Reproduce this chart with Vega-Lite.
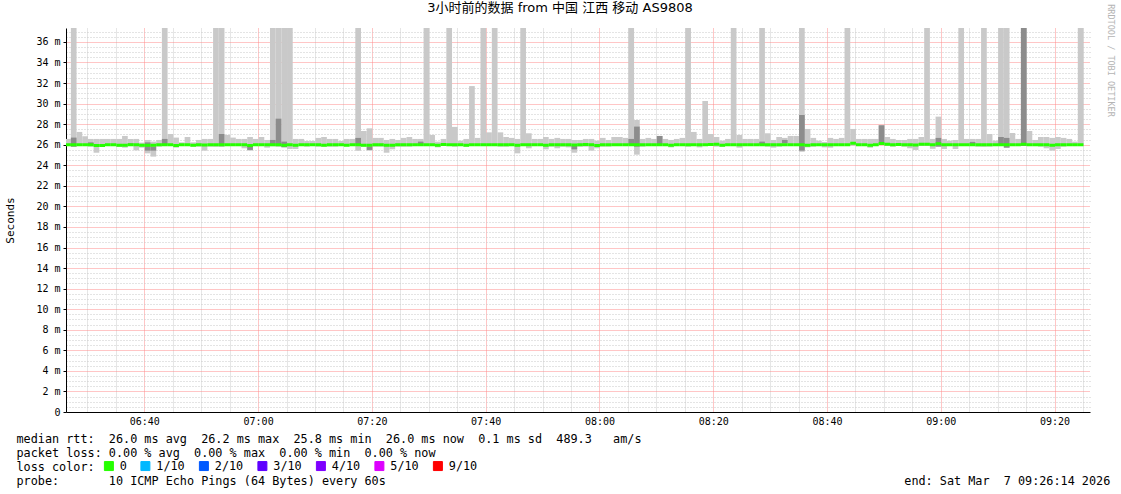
{
  "$schema": "https://vega.github.io/schema/vega-lite/v6.json",
  "width": 1024,
  "height": 384,
  "autosize": {"type": "none"},
  "padding": {"left": 66, "top": 28, "right": 31, "bottom": 82},
  "background": "white",
  "config": {"view": {"stroke": null}},
  "title": {
    "text": "3小时前的数据 from 中国 江西 移动 AS9808",
    "font": "DejaVu Sans, Noto Sans CJK SC",
    "fontSize": 13,
    "fontWeight": "normal",
    "color": "black",
    "anchor": "middle",
    "frame": "group",
    "dx": -18,
    "dy": 24,
    "offset": 3,
    "baseline": "alphabetic"
  },
  "data": {
    "format": {"parse": {"t": "date:'%Y-%m-%d %H:%M'"}},
    "values": [
      {"t": "2026-03-07 06:26", "lo": 25.9, "hi": 26.56, "med": 26, "loss": "0"},
      {"t": "2026-03-07 06:27", "lo": 25.81, "hi": 40, "dlo": 25.81, "dhi": 26.69, "med": 26, "loss": "0"},
      {"t": "2026-03-07 06:28", "lo": 25.9, "hi": 27.24, "med": 26, "loss": "0"},
      {"t": "2026-03-07 06:29", "lo": 25.9, "hi": 26.82, "med": 26, "loss": "0"},
      {"t": "2026-03-07 06:30", "lo": 25.81, "hi": 26.56, "dlo": 25.95, "dhi": 26.23, "med": 26, "loss": "0"},
      {"t": "2026-03-07 06:31", "lo": 25.22, "hi": 26.56, "med": 25.92, "loss": "0"},
      {"t": "2026-03-07 06:32", "lo": 25.81, "hi": 26.56, "med": 25.92, "loss": "0"},
      {"t": "2026-03-07 06:33", "lo": 25.87, "hi": 26.56, "med": 26, "loss": "0"},
      {"t": "2026-03-07 06:34", "lo": 25.95, "hi": 26.56, "med": 26, "loss": "0"},
      {"t": "2026-03-07 06:35", "lo": 25.78, "hi": 26.56, "med": 25.95, "loss": "0"},
      {"t": "2026-03-07 06:36", "lo": 25.71, "hi": 26.85, "med": 25.95, "loss": "0"},
      {"t": "2026-03-07 06:37", "lo": 25.87, "hi": 26.56, "dlo": 25.95, "dhi": 26.14, "med": 26, "loss": "0"},
      {"t": "2026-03-07 06:38", "lo": 25.45, "hi": 26.56, "med": 26, "loss": "0"},
      {"t": "2026-03-07 06:39", "lo": 25.71, "hi": 26.2, "med": 25.95, "loss": "0"},
      {"t": "2026-03-07 06:40", "lo": 25.16, "hi": 26.46, "dlo": 25.42, "dhi": 26.23, "med": 25.95, "loss": "0"},
      {"t": "2026-03-07 06:41", "lo": 24.84, "hi": 26.3, "dlo": 25.42, "dhi": 25.81, "med": 25.95, "loss": "0"},
      {"t": "2026-03-07 06:42", "lo": 25.81, "hi": 26.46, "med": 26, "loss": "0"},
      {"t": "2026-03-07 06:43", "lo": 25.87, "hi": 40, "dlo": 25.95, "dhi": 26.56, "med": 26, "loss": "0"},
      {"t": "2026-03-07 06:44", "lo": 25.9, "hi": 27.04, "med": 26, "loss": "0"},
      {"t": "2026-03-07 06:45", "lo": 25.71, "hi": 26.69, "med": 25.93, "loss": "0"},
      {"t": "2026-03-07 06:46", "lo": 25.87, "hi": 26.23, "med": 26, "loss": "0"},
      {"t": "2026-03-07 06:47", "lo": 25.9, "hi": 26.75, "med": 26, "loss": "0"},
      {"t": "2026-03-07 06:48", "lo": 25.81, "hi": 26.23, "med": 25.95, "loss": "0"},
      {"t": "2026-03-07 06:49", "lo": 25.81, "hi": 26.46, "med": 26, "loss": "0"},
      {"t": "2026-03-07 06:50", "lo": 25.42, "hi": 26.56, "med": 25.97, "loss": "0"},
      {"t": "2026-03-07 06:51", "lo": 25.81, "hi": 26.56, "med": 26, "loss": "0"},
      {"t": "2026-03-07 06:52", "lo": 25.81, "hi": 40, "med": 26, "loss": "0"},
      {"t": "2026-03-07 06:53", "lo": 25.78, "hi": 40, "dlo": 25.9, "dhi": 27.04, "med": 26, "loss": "0"},
      {"t": "2026-03-07 06:54", "lo": 25.9, "hi": 26.95, "med": 26, "loss": "0"},
      {"t": "2026-03-07 06:55", "lo": 25.9, "hi": 26.69, "med": 26, "loss": "0"},
      {"t": "2026-03-07 06:56", "lo": 25.9, "hi": 26.56, "med": 26, "loss": "0"},
      {"t": "2026-03-07 06:57", "lo": 25.65, "hi": 26.56, "med": 26, "loss": "0"},
      {"t": "2026-03-07 06:58", "lo": 25.42, "hi": 26.75, "dlo": 25.49, "dhi": 25.97, "med": 25.93, "loss": "0"},
      {"t": "2026-03-07 06:59", "lo": 25.87, "hi": 26.56, "med": 26, "loss": "0"},
      {"t": "2026-03-07 07:00", "lo": 25.87, "hi": 26.75, "med": 26, "loss": "0"},
      {"t": "2026-03-07 07:01", "lo": 25.71, "hi": 26.46, "med": 26, "loss": "0"},
      {"t": "2026-03-07 07:02", "lo": 25.85, "hi": 40, "dlo": 25.9, "dhi": 26.46, "med": 26, "loss": "0"},
      {"t": "2026-03-07 07:03", "lo": 25.8, "hi": 40, "dlo": 25.9, "dhi": 28.53, "med": 26, "loss": "0"},
      {"t": "2026-03-07 07:04", "lo": 25.8, "hi": 40, "dlo": 25.74, "dhi": 26.3, "med": 25.95, "loss": "0"},
      {"t": "2026-03-07 07:05", "lo": 25.58, "hi": 40, "med": 26, "loss": "0"},
      {"t": "2026-03-07 07:06", "lo": 25.58, "hi": 26.56, "med": 25.95, "loss": "0"},
      {"t": "2026-03-07 07:07", "lo": 25.87, "hi": 26.56, "med": 26, "loss": "0"},
      {"t": "2026-03-07 07:08", "lo": 25.81, "hi": 26.36, "med": 26, "loss": "0"},
      {"t": "2026-03-07 07:09", "lo": 25.87, "hi": 26.36, "med": 26, "loss": "0"},
      {"t": "2026-03-07 07:10", "lo": 25.81, "hi": 26.66, "med": 26, "loss": "0"},
      {"t": "2026-03-07 07:11", "lo": 25.81, "hi": 26.75, "med": 25.95, "loss": "0"},
      {"t": "2026-03-07 07:12", "lo": 25.81, "hi": 26.56, "med": 26, "loss": "0"},
      {"t": "2026-03-07 07:13", "lo": 25.81, "hi": 26.56, "med": 26, "loss": "0"},
      {"t": "2026-03-07 07:14", "lo": 25.87, "hi": 26.36, "med": 26, "loss": "0"},
      {"t": "2026-03-07 07:15", "lo": 25.87, "hi": 26.56, "med": 25.95, "loss": "0"},
      {"t": "2026-03-07 07:16", "lo": 25.87, "hi": 26.56, "med": 26, "loss": "0"},
      {"t": "2026-03-07 07:17", "lo": 25.42, "hi": 40, "dlo": 25.9, "dhi": 26.66, "med": 26, "loss": "0"},
      {"t": "2026-03-07 07:18", "lo": 25.81, "hi": 27.33, "med": 25.95, "loss": "0"},
      {"t": "2026-03-07 07:19", "lo": 25.42, "hi": 27.59, "dlo": 25.49, "dhi": 25.81, "med": 25.95, "loss": "0"},
      {"t": "2026-03-07 07:20", "lo": 25.81, "hi": 26.66, "med": 26, "loss": "0"},
      {"t": "2026-03-07 07:21", "lo": 25.81, "hi": 26.66, "med": 26, "loss": "0"},
      {"t": "2026-03-07 07:22", "lo": 25.22, "hi": 26.46, "med": 25.95, "loss": "0"},
      {"t": "2026-03-07 07:23", "lo": 25.55, "hi": 26.56, "med": 25.95, "loss": "0"},
      {"t": "2026-03-07 07:24", "lo": 25.81, "hi": 26.46, "med": 26, "loss": "0"},
      {"t": "2026-03-07 07:25", "lo": 25.81, "hi": 26.66, "med": 26, "loss": "0"},
      {"t": "2026-03-07 07:26", "lo": 25.81, "hi": 26.75, "med": 26, "loss": "0"},
      {"t": "2026-03-07 07:27", "lo": 25.87, "hi": 26.56, "med": 26, "loss": "0"},
      {"t": "2026-03-07 07:28", "lo": 25.87, "hi": 26.56, "dlo": 25.87, "dhi": 26.3, "med": 26, "loss": "0"},
      {"t": "2026-03-07 07:29", "lo": 25.87, "hi": 40, "med": 26, "loss": "0"},
      {"t": "2026-03-07 07:30", "lo": 25.87, "hi": 26.95, "med": 26, "loss": "0"},
      {"t": "2026-03-07 07:31", "lo": 25.74, "hi": 26.3, "med": 25.95, "loss": "0"},
      {"t": "2026-03-07 07:32", "lo": 25.97, "hi": 26.56, "med": 26.02, "loss": "0"},
      {"t": "2026-03-07 07:33", "lo": 25.87, "hi": 40, "med": 26, "loss": "0"},
      {"t": "2026-03-07 07:34", "lo": 25.81, "hi": 27.73, "med": 26, "loss": "0"},
      {"t": "2026-03-07 07:35", "lo": 25.87, "hi": 26.39, "med": 26, "loss": "0"},
      {"t": "2026-03-07 07:36", "lo": 25.81, "hi": 26.56, "med": 25.95, "loss": "0"},
      {"t": "2026-03-07 07:37", "lo": 25.87, "hi": 31.7, "med": 26, "loss": "0"},
      {"t": "2026-03-07 07:38", "lo": 25.87, "hi": 26.66, "med": 26, "loss": "0"},
      {"t": "2026-03-07 07:39", "lo": 25.87, "hi": 40, "med": 26, "loss": "0"},
      {"t": "2026-03-07 07:40", "lo": 25.87, "hi": 27.2, "med": 26, "loss": "0"},
      {"t": "2026-03-07 07:41", "lo": 25.87, "hi": 40, "med": 26, "loss": "0"},
      {"t": "2026-03-07 07:42", "lo": 25.81, "hi": 27.2, "med": 26, "loss": "0"},
      {"t": "2026-03-07 07:43", "lo": 25.81, "hi": 26.75, "med": 26, "loss": "0"},
      {"t": "2026-03-07 07:44", "lo": 25.87, "hi": 26.66, "med": 26, "loss": "0"},
      {"t": "2026-03-07 07:45", "lo": 25.16, "hi": 26.56, "med": 25.95, "loss": "0"},
      {"t": "2026-03-07 07:46", "lo": 25.87, "hi": 40, "med": 26, "loss": "0"},
      {"t": "2026-03-07 07:47", "lo": 25.65, "hi": 27.11, "med": 26, "loss": "0"},
      {"t": "2026-03-07 07:48", "lo": 25.87, "hi": 26.56, "med": 26, "loss": "0"},
      {"t": "2026-03-07 07:49", "lo": 25.87, "hi": 26.56, "med": 26, "loss": "0"},
      {"t": "2026-03-07 07:50", "lo": 25.55, "hi": 26.75, "med": 25.95, "loss": "0"},
      {"t": "2026-03-07 07:51", "lo": 25.81, "hi": 26.56, "med": 26, "loss": "0"},
      {"t": "2026-03-07 07:52", "lo": 25.65, "hi": 26.66, "med": 26, "loss": "0"},
      {"t": "2026-03-07 07:53", "lo": 25.81, "hi": 26.56, "med": 26, "loss": "0"},
      {"t": "2026-03-07 07:54", "lo": 25.74, "hi": 26.56, "med": 26, "loss": "0"},
      {"t": "2026-03-07 07:55", "lo": 25.22, "hi": 26.46, "dlo": 25.55, "dhi": 25.9, "med": 25.97, "loss": "0"},
      {"t": "2026-03-07 07:56", "lo": 25.81, "hi": 26.46, "med": 26, "loss": "0"},
      {"t": "2026-03-07 07:57", "lo": 25.81, "hi": 26.56, "med": 26.02, "loss": "0"},
      {"t": "2026-03-07 07:58", "lo": 25.42, "hi": 26.56, "med": 26, "loss": "0"},
      {"t": "2026-03-07 07:59", "lo": 25.65, "hi": 26.39, "med": 25.93, "loss": "0"},
      {"t": "2026-03-07 08:00", "lo": 25.81, "hi": 26.66, "med": 26, "loss": "0"},
      {"t": "2026-03-07 08:01", "lo": 25.81, "hi": 26.46, "med": 26, "loss": "0"},
      {"t": "2026-03-07 08:02", "lo": 25.87, "hi": 26.75, "med": 26, "loss": "0"},
      {"t": "2026-03-07 08:03", "lo": 25.87, "hi": 26.75, "med": 26, "loss": "0"},
      {"t": "2026-03-07 08:04", "lo": 25.87, "hi": 26.66, "med": 26, "loss": "0"},
      {"t": "2026-03-07 08:05", "lo": 25.87, "hi": 40, "dlo": 25.97, "dhi": 26.56, "med": 26, "loss": "0"},
      {"t": "2026-03-07 08:06", "lo": 25.03, "hi": 28.4, "dlo": 25.81, "dhi": 27.76, "med": 26, "loss": "0"},
      {"t": "2026-03-07 08:07", "lo": 25.81, "hi": 26.56, "med": 26, "loss": "0"},
      {"t": "2026-03-07 08:08", "lo": 25.87, "hi": 26.66, "med": 26, "loss": "0"},
      {"t": "2026-03-07 08:09", "lo": 25.87, "hi": 26.56, "med": 26, "loss": "0"},
      {"t": "2026-03-07 08:10", "lo": 25.87, "hi": 26.85, "dlo": 26.0, "dhi": 26.85, "med": 26, "loss": "0"},
      {"t": "2026-03-07 08:11", "lo": 25.87, "hi": 26.56, "med": 26, "loss": "0"},
      {"t": "2026-03-07 08:12", "lo": 25.74, "hi": 26.46, "med": 25.95, "loss": "0"},
      {"t": "2026-03-07 08:13", "lo": 25.87, "hi": 26.56, "med": 26, "loss": "0"},
      {"t": "2026-03-07 08:14", "lo": 25.87, "hi": 26.66, "med": 26, "loss": "0"},
      {"t": "2026-03-07 08:15", "lo": 25.81, "hi": 40, "med": 26, "loss": "0"},
      {"t": "2026-03-07 08:16", "lo": 25.87, "hi": 27.24, "med": 26, "loss": "0"},
      {"t": "2026-03-07 08:17", "lo": 25.74, "hi": 26.56, "med": 26, "loss": "0"},
      {"t": "2026-03-07 08:18", "lo": 25.87, "hi": 30.25, "med": 26, "loss": "0"},
      {"t": "2026-03-07 08:19", "lo": 25.87, "hi": 27.04, "med": 26.02, "loss": "0"},
      {"t": "2026-03-07 08:20", "lo": 25.81, "hi": 26.75, "med": 26.05, "loss": "0"},
      {"t": "2026-03-07 08:21", "lo": 25.81, "hi": 26.39, "med": 25.95, "loss": "0"},
      {"t": "2026-03-07 08:22", "lo": 25.87, "hi": 26.56, "med": 26, "loss": "0"},
      {"t": "2026-03-07 08:23", "lo": 25.87, "hi": 40, "med": 26, "loss": "0"},
      {"t": "2026-03-07 08:24", "lo": 25.71, "hi": 26.95, "med": 26, "loss": "0"},
      {"t": "2026-03-07 08:25", "lo": 25.87, "hi": 26.56, "med": 26, "loss": "0"},
      {"t": "2026-03-07 08:26", "lo": 25.87, "hi": 26.56, "med": 26, "loss": "0"},
      {"t": "2026-03-07 08:27", "lo": 25.87, "hi": 26.56, "med": 26, "loss": "0"},
      {"t": "2026-03-07 08:28", "lo": 25.87, "hi": 40, "dlo": 25.97, "dhi": 26.3, "med": 26, "loss": "0"},
      {"t": "2026-03-07 08:29", "lo": 25.81, "hi": 27.11, "med": 26, "loss": "0"},
      {"t": "2026-03-07 08:30", "lo": 25.71, "hi": 26.46, "med": 26, "loss": "0"},
      {"t": "2026-03-07 08:31", "lo": 25.81, "hi": 26.75, "med": 26, "loss": "0"},
      {"t": "2026-03-07 08:32", "lo": 25.87, "hi": 26.66, "dlo": 26.14, "dhi": 26.46, "med": 26, "loss": "0"},
      {"t": "2026-03-07 08:33", "lo": 25.87, "hi": 26.85, "med": 26, "loss": "0"},
      {"t": "2026-03-07 08:34", "lo": 25.87, "hi": 26.85, "med": 26, "loss": "0"},
      {"t": "2026-03-07 08:35", "lo": 25.32, "hi": 40, "dlo": 25.42, "dhi": 28.89, "med": 26, "loss": "0"},
      {"t": "2026-03-07 08:36", "lo": 25.74, "hi": 27.53, "med": 25.95, "loss": "0"},
      {"t": "2026-03-07 08:37", "lo": 25.81, "hi": 26.66, "med": 26, "loss": "0"},
      {"t": "2026-03-07 08:38", "lo": 25.87, "hi": 26.39, "med": 26, "loss": "0"},
      {"t": "2026-03-07 08:39", "lo": 25.74, "hi": 26.27, "med": 26, "loss": "0"},
      {"t": "2026-03-07 08:40", "lo": 25.71, "hi": 26.66, "med": 26, "loss": "0"},
      {"t": "2026-03-07 08:41", "lo": 25.87, "hi": 26.56, "med": 26, "loss": "0"},
      {"t": "2026-03-07 08:42", "lo": 25.87, "hi": 26.66, "med": 26, "loss": "0"},
      {"t": "2026-03-07 08:43", "lo": 25.87, "hi": 40, "med": 26, "loss": "0"},
      {"t": "2026-03-07 08:44", "lo": 25.9, "hi": 27.53, "med": 26.15, "loss": "0"},
      {"t": "2026-03-07 08:45", "lo": 25.87, "hi": 26.56, "med": 26, "loss": "0"},
      {"t": "2026-03-07 08:46", "lo": 25.87, "hi": 26.56, "med": 26, "loss": "0"},
      {"t": "2026-03-07 08:47", "lo": 25.71, "hi": 26.56, "med": 25.95, "loss": "0"},
      {"t": "2026-03-07 08:48", "lo": 25.87, "hi": 26.56, "med": 26, "loss": "0"},
      {"t": "2026-03-07 08:49", "lo": 26.0, "hi": 27.89, "dlo": 26.07, "dhi": 27.89, "med": 26.12, "loss": "0"},
      {"t": "2026-03-07 08:50", "lo": 25.87, "hi": 26.75, "med": 26.05, "loss": "0"},
      {"t": "2026-03-07 08:51", "lo": 25.81, "hi": 26.56, "med": 26, "loss": "0"},
      {"t": "2026-03-07 08:52", "lo": 25.87, "hi": 26.46, "med": 26.02, "loss": "0"},
      {"t": "2026-03-07 08:53", "lo": 25.81, "hi": 26.46, "med": 26, "loss": "0"},
      {"t": "2026-03-07 08:54", "lo": 25.65, "hi": 26.56, "med": 26, "loss": "0"},
      {"t": "2026-03-07 08:55", "lo": 25.49, "hi": 26.56, "med": 25.97, "loss": "0"},
      {"t": "2026-03-07 08:56", "lo": 25.87, "hi": 26.75, "med": 26.05, "loss": "0"},
      {"t": "2026-03-07 08:57", "lo": 25.87, "hi": 40, "med": 26.05, "loss": "0"},
      {"t": "2026-03-07 08:58", "lo": 25.6, "hi": 26.56, "med": 26, "loss": "0"},
      {"t": "2026-03-07 08:59", "lo": 25.81, "hi": 28.73, "dlo": 25.81, "dhi": 26.66, "med": 26.1, "loss": "0"},
      {"t": "2026-03-07 09:00", "lo": 25.58, "hi": 26.56, "med": 26, "loss": "0"},
      {"t": "2026-03-07 09:01", "lo": 25.95, "hi": 26.39, "med": 26, "loss": "0"},
      {"t": "2026-03-07 09:02", "lo": 25.58, "hi": 26.46, "med": 26, "loss": "0"},
      {"t": "2026-03-07 09:03", "lo": 25.87, "hi": 40, "med": 26, "loss": "0"},
      {"t": "2026-03-07 09:04", "lo": 25.87, "hi": 26.56, "med": 26, "loss": "0"},
      {"t": "2026-03-07 09:05", "lo": 25.87, "hi": 26.56, "dlo": 26.07, "dhi": 26.27, "med": 26, "loss": "0"},
      {"t": "2026-03-07 09:06", "lo": 25.81, "hi": 26.56, "med": 26, "loss": "0"},
      {"t": "2026-03-07 09:07", "lo": 25.81, "hi": 40, "med": 26, "loss": "0"},
      {"t": "2026-03-07 09:08", "lo": 25.81, "hi": 27.04, "med": 26, "loss": "0"},
      {"t": "2026-03-07 09:09", "lo": 25.87, "hi": 26.39, "med": 26, "loss": "0"},
      {"t": "2026-03-07 09:10", "lo": 25.87, "hi": 40, "dlo": 25.9, "dhi": 26.75, "med": 26, "loss": "0"},
      {"t": "2026-03-07 09:11", "lo": 25.71, "hi": 40, "dlo": 25.71, "dhi": 26.66, "med": 26, "loss": "0"},
      {"t": "2026-03-07 09:12", "lo": 25.87, "hi": 27.14, "med": 26, "loss": "0"},
      {"t": "2026-03-07 09:13", "lo": 25.87, "hi": 26.56, "med": 26, "loss": "0"},
      {"t": "2026-03-07 09:14", "lo": 25.87, "hi": 40, "dlo": 25.87, "dhi": 40, "med": 26.05, "loss": "0"},
      {"t": "2026-03-07 09:15", "lo": 25.87, "hi": 27.33, "med": 26, "loss": "0"},
      {"t": "2026-03-07 09:16", "lo": 25.87, "hi": 26.46, "med": 26, "loss": "0"},
      {"t": "2026-03-07 09:17", "lo": 25.81, "hi": 26.75, "med": 26, "loss": "0"},
      {"t": "2026-03-07 09:18", "lo": 25.65, "hi": 26.75, "med": 26, "loss": "0"},
      {"t": "2026-03-07 09:19", "lo": 25.42, "hi": 26.66, "med": 25.95, "loss": "0"},
      {"t": "2026-03-07 09:20", "lo": 25.58, "hi": 26.75, "med": 26, "loss": "0"},
      {"t": "2026-03-07 09:21", "lo": 25.81, "hi": 26.66, "med": 26, "loss": "0"},
      {"t": "2026-03-07 09:22", "lo": 25.87, "hi": 26.56, "med": 26, "loss": "0"},
      {"t": "2026-03-07 09:23", "lo": 25.87, "hi": 26.3, "med": 26, "loss": "0"},
      {"t": "2026-03-07 09:24", "lo": 25.87, "hi": 40, "med": 26, "loss": "0"}
    ]
  },
  "layer": [
    {
      "mark": {"type": "bar", "color": "#c9c9c9", "clip": true, "binSpacing": 0},
      "encoding": {
        "x": {
          "field": "t",
          "type": "temporal",
          "timeUnit": "yearmonthdatehoursminutes",
          "scale": {
            "domain": [
              {"year": 2026, "month": 3, "date": 7, "hours": 6, "minutes": 26, "seconds": 14},
              {"year": 2026, "month": 3, "date": 7, "hours": 9, "minutes": 26, "seconds": 14}
            ]
          },
          "axis": {
            "labelExpr": "minutes(datum.value) % 20 === 0 ? timeFormat(datum.value, '%H:%M') : ''",
            "labelOverlap": false,
            "labelFlush": false,
            "labelFont": "DejaVu Sans Mono",
            "labelFontSize": 10,
            "labelColor": "black",
            "labelPadding": 4,
            "ticks": false,
            "domainColor": "black",
            "grid": true,
            "gridDash": [1, 1],
            "gridColor": {"condition": {"test": "minutes(datum.value) % 20 === 0", "value": "#ff8c8c"}, "value": "#cccccc"},
            "title": [
              "median rtt:\u00a0\u00a026.0 ms avg\u00a0\u00a026.2 ms max\u00a0\u00a025.8 ms min\u00a0\u00a026.0 ms now\u00a0\u00a00.1 ms sd\u00a0\u00a0489.3\u00a0\u00a0\u00a0am/s",
              "packet loss: 0.00 % avg\u00a0\u00a00.00 % max\u00a0\u00a00.00 % min\u00a0\u00a00.00 % now",
              "loss color:",
              "probe:\u00a0\u00a0\u00a0\u00a0\u00a0\u00a0\u00a010 ICMP Echo Pings (64 Bytes) every 60s\u00a0\u00a0\u00a0\u00a0\u00a0\u00a0\u00a0\u00a0\u00a0\u00a0\u00a0\u00a0\u00a0\u00a0\u00a0\u00a0\u00a0\u00a0\u00a0\u00a0\u00a0\u00a0\u00a0\u00a0\u00a0\u00a0\u00a0\u00a0\u00a0\u00a0\u00a0\u00a0\u00a0\u00a0\u00a0\u00a0\u00a0\u00a0\u00a0\u00a0\u00a0\u00a0\u00a0\u00a0\u00a0\u00a0\u00a0\u00a0\u00a0\u00a0\u00a0\u00a0\u00a0\u00a0\u00a0\u00a0\u00a0\u00a0\u00a0\u00a0\u00a0\u00a0\u00a0\u00a0\u00a0\u00a0\u00a0\u00a0\u00a0\u00a0\u00a0\u00a0\u00a0end: Sat Mar\u00a0\u00a07 09:26:14 2026"
            ],
            "titleFont": "DejaVu Sans Mono",
            "titleFontSize": 11.8,
            "titleFontWeight": "normal",
            "titleColor": "black",
            "titleAlign": "left",
            "titleBaseline": "alphabetic",
            "titleLineHeight": 14,
            "titleX": -50,
            "titleY": 30
          }
        },
        "y": {
          "field": "lo",
          "type": "quantitative",
          "scale": {"domain": [0, 37.35], "nice": false, "zero": false},
          "axis": {
            "orient": "left",
            "values": [0, 2, 4, 6, 8, 10, 12, 14, 16, 18, 20, 22, 24, 26, 28, 30, 32, 34, 36],
            "labelExpr": "datum.value === 0 ? '0' : datum.value + ' m'",
            "labelOverlap": false,
            "labelBound": false,
            "labelFont": "DejaVu Sans Mono",
            "labelFontSize": 10,
            "labelColor": "black",
            "labelPadding": 3,
            "tickSize": 3,
            "tickColor": "black",
            "domainColor": "black",
            "grid": true,
            "gridDash": [1, 1],
            "gridColor": {"condition": {"test": "datum.value > 0", "value": "#ff8c8c"}, "value": "transparent"},
            "title": "Seconds",
            "titleFont": "DejaVu Sans Mono",
            "titleFontSize": 11,
            "titleFontWeight": "normal",
            "titleColor": "black",
            "titleBaseline": "middle",
            "titleX": -56,
            "titleY": 192
          }
        },
        "y2": {"field": "hi"}
      }
    },
    {
      "mark": {"type": "bar", "color": "#8c8c8c", "clip": true, "binSpacing": 0},
      "encoding": {
        "x": {"field": "t", "type": "temporal", "timeUnit": "yearmonthdatehoursminutes"},
        "y": {
          "field": "dlo",
          "type": "quantitative",
          "axis": {
            "orient": "left",
            "values": [0.5, 1, 1.5, 2.5, 3, 3.5, 4.5, 5, 5.5, 6.5, 7, 7.5, 8.5, 9, 9.5, 10.5, 11, 11.5, 12.5, 13, 13.5, 14.5, 15, 15.5, 16.5, 17, 17.5, 18.5, 19, 19.5, 20.5, 21, 21.5, 22.5, 23, 23.5, 24.5, 25, 25.5, 26.5, 27, 27.5, 28.5, 29, 29.5, 30.5, 31, 31.5, 32.5, 33, 33.5, 34.5, 35, 35.5, 36.5, 37],
            "labels": false,
            "ticks": false,
            "domain": false,
            "grid": true,
            "gridDash": [1, 2],
            "gridColor": "#c8c8c8",
            "title": null
          }
        },
        "y2": {"field": "dhi"}
      }
    },
    {
      "mark": {"type": "bar", "strokeWidth": 3, "clip": true, "binSpacing": 0},
      "encoding": {
        "x": {"field": "t", "type": "temporal", "timeUnit": "yearmonthdatehoursminutes"},
        "y": {
          "field": "med",
          "type": "quantitative",
          "axis": {
            "orient": "right",
            "labels": false,
            "ticks": false,
            "domain": false,
            "grid": false,
            "title": "RRDTOOL / TOBI OETIKER",
            "titleFont": "DejaVu Sans Mono",
            "titleFontSize": 8.5,
            "titleFontWeight": "normal",
            "titleColor": "#b4b4b4",
            "titleAngle": 90,
            "titleAlign": "center",
            "titleBaseline": "middle",
            "titleX": 20,
            "titleY": 32
          }
        },
        "y2": {"field": "med"},
        "fill": {
          "field": "loss",
          "type": "nominal",
          "scale": {
            "domain": ["0", "1/10", "2/10", "3/10", "4/10", "5/10", "9/10"],
            "range": ["#26ff00", "#00b8ff", "#0059ff", "#5e00ff", "#7e00ff", "#dd00ff", "#ff0000"]
          },
          "legend": {
            "orient": "none",
            "legendX": 37,
            "legendY": 432,
            "direction": "horizontal",
            "title": null,
            "labelFont": "DejaVu Sans Mono",
            "labelFontSize": 11.8,
            "labelColor": "black",
            "labelOffset": 5,
            "symbolType": "square",
            "symbolSize": 81,
            "symbolStrokeColor": "black",
            "symbolStrokeWidth": 1,
            "symbolOpacity": 1,
            "columnPadding": 11.5,
            "padding": 0
          }
        },
        "stroke": {
          "field": "loss",
          "type": "nominal",
          "scale": {
            "domain": ["0", "1/10", "2/10", "3/10", "4/10", "5/10", "9/10"],
            "range": ["#26ff00", "#00b8ff", "#0059ff", "#5e00ff", "#7e00ff", "#dd00ff", "#ff0000"]
          },
          "legend": null
        }
      }
    }
  ],
  "resolve": {"axis": {"y": "independent"}}
}
